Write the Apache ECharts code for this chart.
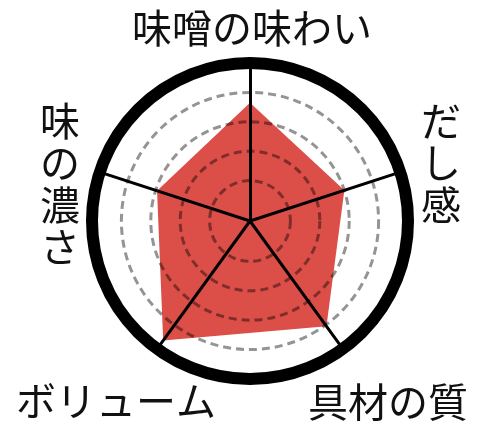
<!DOCTYPE html>
<html>
<head>
<meta charset="utf-8">
<script src="https://cdn.jsdelivr.net/npm/echarts@6/dist/echarts.min.js"></script>
<style>
html,body{margin:0;padding:0;background:#fff;}
#chart{width:500px;height:433px;}
</style>
</head>
<body>
<div id="chart"></div>
<script>
// Indicators (ECharts radar places them counter-clockwise from the top)
const categories = ['味噌の味わい', '味の濃さ', 'ボリューム', '具材の質', 'だし感'];
// Scores on a 0–5 scale
const scores = [3.65, 2.95, 4.65, 4.05, 3.0];
const scaleMax = 5;

const FONT = '"Noto Sans CJK JP", "Noto Sans", sans-serif';
const CX = 250, CY = 221, R = 158, R0 = 11;

// label placement (layout only)
const labelPos = [
  { x: 252, y: 28, vertical: false },
  { x: 60, y: 184, vertical: true },
  { x: 116, y: 401, vertical: false },
  { x: 388, y: 402, vertical: false },
  { x: 441, y: 163, vertical: true }
];

const chart = echarts.init(document.getElementById('chart'), null, { renderer: 'canvas' });

const option = {
  backgroundColor: '#ffffff',
  animation: false,
  radar: [
    {
      // frame: spokes + thick outer ring
      center: [CX, CY],
      radius: [0, R],
      startAngle: 90,
      shape: 'circle',
      splitNumber: 1,
      z: 4,
      indicator: categories.map(c => ({ name: c, min: 0, max: scaleMax })),
      axisName: { show: false },
      axisLine: { show: true, lineStyle: { color: '#000', width: 3 } },
      axisTick: { show: false },
      axisLabel: { show: false },
      splitLine: { show: true, lineStyle: { color: ['transparent', '#000'], width: 12 } },
      splitArea: { show: false }
    },
    {
      // dashed grid rings
      center: [CX, CY],
      radius: [R0, R],
      startAngle: 90,
      shape: 'circle',
      splitNumber: scaleMax,
      z: 3,
      indicator: categories.map(c => ({ name: c, min: 0, max: scaleMax })),
      axisName: { show: false },
      axisLine: { show: false },
      axisTick: { show: false },
      axisLabel: { show: false },
      splitLine: {
        show: true,
        lineStyle: {
          color: ['transparent', 'rgba(0,0,0,0.42)', 'rgba(0,0,0,0.42)', 'rgba(0,0,0,0.42)', 'rgba(0,0,0,0.42)', 'transparent'],
          width: 3,
          type: [8, 5]
        }
      },
      splitArea: { show: false }
    }
  ],
  series: [
    {
      type: 'radar',
      radarIndex: 1,
      z: 2,
      symbol: 'none',
      silent: true,
      lineStyle: { width: 0, color: '#dc4e48' },
      areaStyle: { color: '#dc4e48', opacity: 1 },
      data: [{ value: scores, name: '評価' }]
    }
  ],
  graphic: categories.map((c, i) => ({
    type: 'text',
    x: labelPos[i].x,
    y: labelPos[i].y,
    z: 10,
    style: {
      text: labelPos[i].vertical ? c.split('').join('\n') : c,
      fill: '#111',
      font: 'normal 40px ' + FONT,
      lineHeight: 42,
      textAlign: 'center',
      textVerticalAlign: 'middle'
    }
  }))
};

chart.setOption(option);
</script>
</body>
</html>
